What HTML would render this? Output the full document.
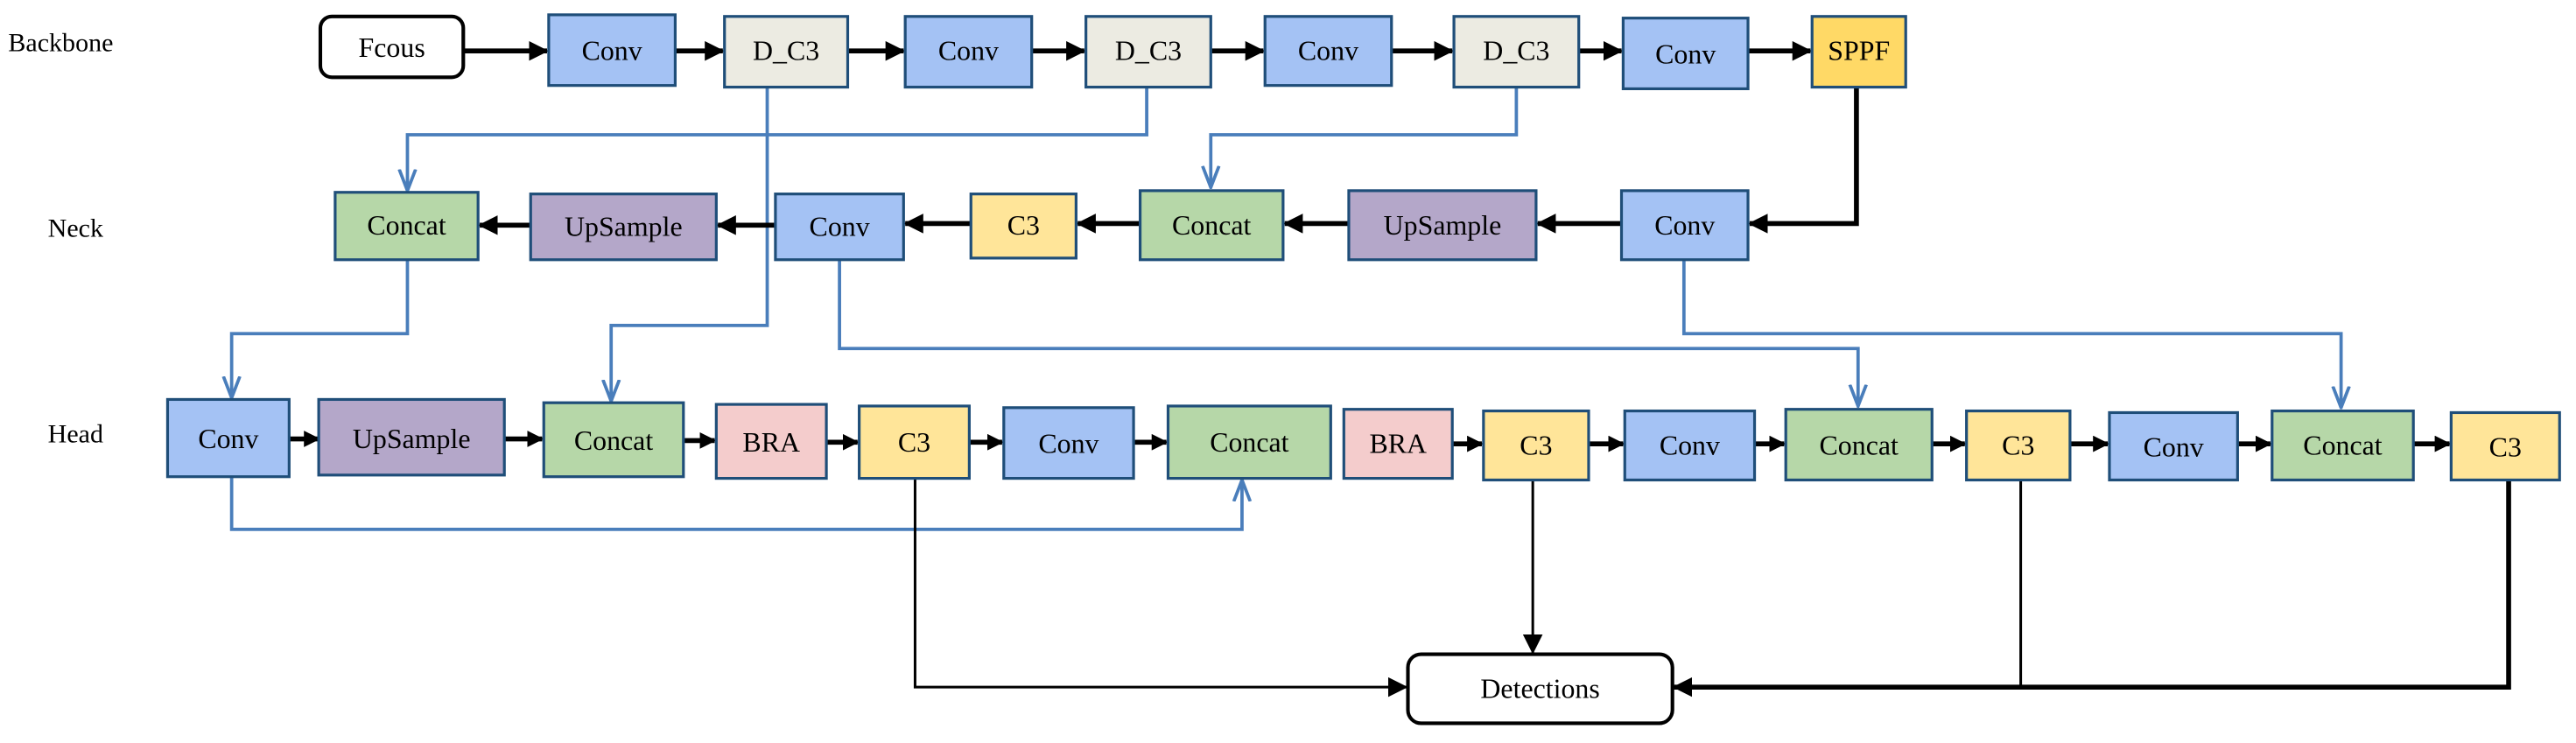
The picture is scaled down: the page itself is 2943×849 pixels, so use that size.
<!DOCTYPE html>
<html><head><meta charset="utf-8"><style>
html,body{margin:0;padding:0;background:#fff;width:2943px;height:849px;overflow:hidden}
svg{display:block}
text{font-family:"Liberation Serif",serif;font-size:17px;fill:#000;text-anchor:middle;dominant-baseline:central}
.b{stroke:#1F4E79;stroke-width:1.7}
.blue{stroke:#4A7EBB;stroke-width:2;fill:none}
.blk{stroke:#000;stroke-width:3;fill:none}
.thin{stroke:#000;stroke-width:1.6;fill:none}
</style></head><body>
<svg width="2943" height="849" viewBox="0 0 1568 452" preserveAspectRatio="none" xmlns="http://www.w3.org/2000/svg">
<defs>
<marker id="ah" markerWidth="10" markerHeight="10" refX="9" refY="5" orient="auto" markerUnits="userSpaceOnUse"><path d="M0,0 L10,5 L0,10 Z" fill="#000"/></marker>
<marker id="ah2" markerWidth="12" markerHeight="12" refX="11" refY="6" orient="auto" markerUnits="userSpaceOnUse"><path d="M0,0 L12,6 L0,12 Z" fill="#000"/></marker>
<marker id="bh" markerWidth="14" markerHeight="14" refX="13" refY="7" orient="auto" markerUnits="userSpaceOnUse"><path d="M0,2 L13,7 L0,12" fill="none" stroke="#4A7EBB" stroke-width="2"/></marker>
</defs>
<text x="5" y="26" style="font-size:16px;text-anchor:start">Backbone</text>
<text x="46" y="139" style="font-size:16px">Neck</text>
<text x="46" y="264" style="font-size:16px">Head</text>

<path class="blue" d="M698,53 V82 H248 V116" marker-end="url(#bh)"/>
<path class="blue" d="M467,53 V198 H372 V244" marker-end="url(#bh)"/>
<path class="blue" d="M923,53 V82 H737 V114" marker-end="url(#bh)"/>
<path class="blue" d="M248,158 V203 H141 V242" marker-end="url(#bh)"/>
<path class="blue" d="M511,158 V212 H1131 V247" marker-end="url(#bh)"/>
<path class="blue" d="M1025,158 V203 H1425 V248" marker-end="url(#bh)"/>
<path class="blue" d="M141,290 V322 H756 V292" marker-end="url(#bh)"/>

<path class="blk" d="M282,31 H333" marker-end="url(#ah2)"/>
<path class="blk" d="M411,31 H440" marker-end="url(#ah2)"/>
<path class="blk" d="M516,31 H550" marker-end="url(#ah2)"/>
<path class="blk" d="M737,31 H769" marker-end="url(#ah2)"/>
<path class="blk" d="M628,31 H660" marker-end="url(#ah2)"/>
<path class="blk" d="M847,31 H884" marker-end="url(#ah2)"/>
<path class="blk" d="M961,31 H987" marker-end="url(#ah2)"/>
<path class="blk" d="M1064,31 H1102" marker-end="url(#ah2)"/>
<path class="blk" d="M1130,53 V136 H1065" marker-end="url(#ah2)"/>
<path class="blk" d="M987,136 H936" marker-end="url(#ah2)"/>
<path class="blk" d="M821,136 H782" marker-end="url(#ah2)"/>
<path class="blk" d="M694,136 H656" marker-end="url(#ah2)"/>
<path class="blk" d="M591,136 H551" marker-end="url(#ah2)"/>
<path class="blk" d="M472,137 H437" marker-end="url(#ah2)"/>
<path class="blk" d="M323,137 H292" marker-end="url(#ah2)"/>
<path class="blk" d="M176,267 H194" marker-end="url(#ah)"/>
<path class="blk" d="M307,267 H330" marker-end="url(#ah)"/>
<path class="blk" d="M416,268 H435" marker-end="url(#ah)"/>
<path class="blk" d="M503,269 H522" marker-end="url(#ah)"/>
<path class="blk" d="M590,269 H610" marker-end="url(#ah)"/>
<path class="blk" d="M690,269 H710" marker-end="url(#ah)"/>
<path class="blk" d="M884,270 H902" marker-end="url(#ah)"/>
<path class="blk" d="M967,270 H988" marker-end="url(#ah)"/>
<path class="blk" d="M1068,270 H1086" marker-end="url(#ah)"/>
<path class="blk" d="M1176,270 H1196" marker-end="url(#ah)"/>
<path class="blk" d="M1260,270 H1283" marker-end="url(#ah)"/>
<path class="blk" d="M1362,270 H1382" marker-end="url(#ah)"/>
<path class="blk" d="M1469,270 H1491" marker-end="url(#ah)"/>
<path class="thin" d="M557,291 V418 H856" marker-end="url(#ah2)"/>
<path class="thin" d="M933,292 V397" marker-end="url(#ah2)"/>
<path class="blk" d="M1527,292 V418 H1019" marker-end="url(#ah2)"/>
<path class="thin" d="M1230,292 V418"/>

<rect x="195" y="10" width="87" height="37" rx="7" fill="#fff" stroke="#000" stroke-width="2.2"/><text x="238.5" y="29">Fcous</text>
<rect class="b" x="334" y="9" width="77" height="43" fill="#A4C2F4"/><text x="372.5" y="31">Conv</text>
<rect class="b" x="441" y="10" width="75" height="43" fill="#ECEBE2"/><text x="478.5" y="31">D_C3</text>
<rect class="b" x="551" y="10" width="77" height="43" fill="#A4C2F4"/><text x="589.5" y="31">Conv</text>
<rect class="b" x="661" y="10" width="76" height="43" fill="#ECEBE2"/><text x="699" y="31">D_C3</text>
<rect class="b" x="770" y="10" width="77" height="42" fill="#A4C2F4"/><text x="808.5" y="31">Conv</text>
<rect class="b" x="885" y="10" width="76" height="43" fill="#ECEBE2"/><text x="923" y="31">D_C3</text>
<rect class="b" x="988" y="11" width="76" height="43" fill="#A4C2F4"/><text x="1026" y="33">Conv</text>
<rect class="b" x="1103" y="10" width="57" height="43" fill="#FFD966"/><text x="1131.5" y="31">SPPF</text>

<rect class="b" x="204" y="117" width="87" height="41" fill="#B6D7A8"/><text x="247.5" y="137">Concat</text>
<rect class="b" x="323" y="118" width="113" height="40" fill="#B4A7C9"/><text x="379.5" y="138">UpSample</text>
<rect class="b" x="472" y="118" width="78" height="40" fill="#A4C2F4"/><text x="511" y="138">Conv</text>
<rect class="b" x="591" y="118" width="64" height="39" fill="#FFE599"/><text x="623" y="137">C3</text>
<rect class="b" x="694" y="116" width="87" height="42" fill="#B6D7A8"/><text x="737.5" y="137">Concat</text>
<rect class="b" x="821" y="116" width="114" height="42" fill="#B4A7C9"/><text x="878" y="137">UpSample</text>
<rect class="b" x="987" y="116" width="77" height="42" fill="#A4C2F4"/><text x="1025.5" y="137">Conv</text>

<rect class="b" x="102" y="243" width="74" height="47" fill="#A4C2F4"/><text x="139" y="267">Conv</text>
<rect class="b" x="194" y="243" width="113" height="46" fill="#B4A7C9"/><text x="250.5" y="267">UpSample</text>
<rect class="b" x="331" y="245" width="85" height="45" fill="#B6D7A8"/><text x="373.5" y="268">Concat</text>
<rect class="b" x="436" y="246" width="67" height="45" fill="#F4CCCC"/><text x="469.5" y="269">BRA</text>
<rect class="b" x="523" y="247" width="67" height="44" fill="#FFE599"/><text x="556.5" y="269">C3</text>
<rect class="b" x="611" y="248" width="79" height="43" fill="#A4C2F4"/><text x="650.5" y="270">Conv</text>
<rect class="b" x="711" y="247" width="99" height="44" fill="#B6D7A8"/><text x="760.5" y="269">Concat</text>
<rect class="b" x="818" y="249" width="66" height="42" fill="#F4CCCC"/><text x="851" y="270">BRA</text>
<rect class="b" x="903" y="250" width="64" height="42" fill="#FFE599"/><text x="935" y="271">C3</text>
<rect class="b" x="989" y="250" width="79" height="42" fill="#A4C2F4"/><text x="1028.5" y="271">Conv</text>
<rect class="b" x="1087" y="249" width="89" height="43" fill="#B6D7A8"/><text x="1131.5" y="271">Concat</text>
<rect class="b" x="1197" y="250" width="63" height="42" fill="#FFE599"/><text x="1228.5" y="271">C3</text>
<rect class="b" x="1284" y="251" width="78" height="41" fill="#A4C2F4"/><text x="1323" y="272">Conv</text>
<rect class="b" x="1383" y="250" width="86" height="42" fill="#B6D7A8"/><text x="1426" y="271">Concat</text>
<rect class="b" x="1492" y="251" width="66" height="41" fill="#FFE599"/><text x="1525" y="272">C3</text>

<rect x="857" y="398" width="161" height="42" rx="8" fill="#fff" stroke="#000" stroke-width="2.2"/><text x="937.5" y="419">Detections</text>
</svg>
</body></html>
